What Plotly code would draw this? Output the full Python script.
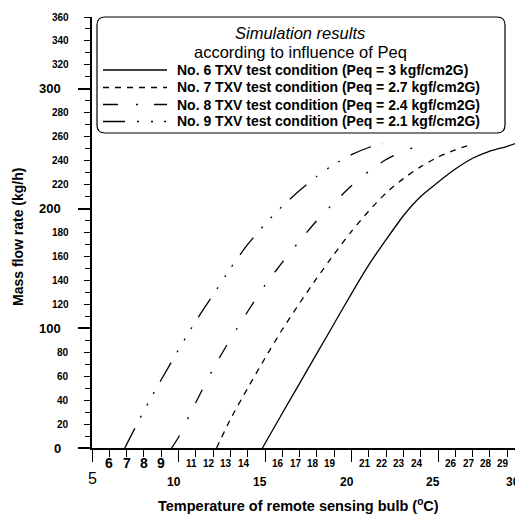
import plotly.graph_objects as go

# ---------------- data ----------------
temp_no6 = [14.85, 16, 17, 18, 19, 20, 21, 22, 23, 24, 25, 26, 27, 28, 29, 29.5]
flow_no6 = [0, 29, 54, 79, 104, 129, 153, 174, 194, 210, 222, 233, 242, 248, 252, 254.5]

temp_no7 = [12.2, 13, 14, 15, 16, 17, 18, 19, 20, 21, 22, 23, 24, 25, 26, 27]
flow_no7 = [0, 24, 50, 75, 99, 121, 142, 162, 181, 198, 213, 225, 235, 243, 249, 254]

temp_no8 = [9.6, 10, 11, 12, 13, 14, 15, 16, 17, 18, 19, 20, 21, 22, 23, 24, 24.4]
flow_no8 = [0, 9, 38, 66, 91, 114, 136, 155, 173, 190, 205, 219, 231, 241, 248, 253, 254]

temp_no9 = [6.9, 7, 8, 9, 10, 11, 12, 13, 14, 15, 16, 17, 18, 19, 20, 21, 21.8]
flow_no9 = [0, 3, 31, 57, 82, 106, 128, 150, 170, 187, 202, 215, 227, 237, 245, 251, 254]

series_names = [
    "No. 6 TXV test condition (Peq = 3 kgf/cm2G)",
    "No. 7 TXV test condition (Peq = 2.7 kgf/cm2G)",
    "No. 8 TXV test condition (Peq = 2.4 kgf/cm2G)",
    "No. 9 TXV test condition (Peq = 2.1 kgf/cm2G)",
]
legend_title_1 = "Simulation results"
legend_title_2 = "according to influence of Peq"

x_tick_vals = list(range(5, 31))
x_tick_labels = [str(v) for v in x_tick_vals]
x_major_vals = [5, 10, 15, 20, 25, 30]
y_tick_vals = list(range(0, 361, 20))
y_tick_labels = [str(v) for v in y_tick_vals]
y_major_vals = [0, 100, 200, 300]

x_title = "Temperature of remote sensing bulb (<sup>o</sup>C)"
y_title = "Mass flow rate (kg/h)"

# ---------------- geometry / styles ----------------
OFF = 8                          # page body margin
W, H = 523 - OFF, 516 - OFF
L = 92 - OFF
T = 17 - OFF
B = H - (448 - OFF)
R = 0
PW, PH = W - L - R, H - T - B
XPX = 17.3                       # pixels per degree
X0 = 5
XMAX = X0 + PW / XPX
YMAX = 360

dashes = ["solid", "6px,6px", "15px,18px,2px,16px",
          "22px,12px,2px,12px,2px,11px,2px,12px"]
NARROW = "Liberation Sans Narrow, Arial Narrow, Liberation Sans, Arial"
ARIAL = "Liberation Sans, Arial, sans-serif"


def pxx(p):
    """reference-picture x pixel -> paper coordinate"""
    return (p - OFF - L) / PW


def pxy(p):
    """reference-picture y pixel -> paper coordinate"""
    return (H - B - (p - OFF)) / PH


series = [(temp_no6, flow_no6), (temp_no7, flow_no7),
          (temp_no8, flow_no8), (temp_no9, flow_no9)]

fig = go.Figure()
for (xs, ys), name, d in zip(series, series_names, dashes):
    fig.add_trace(go.Scatter(
        x=xs, y=ys, mode="lines", name=name, showlegend=False,
        line=dict(color="black", width=1.3, dash=d, shape="spline", smoothing=0.6),
    ))

annotations = []
shapes = []

# x tick labels (staggered like the original)
for v, lab in zip(x_tick_vals, x_tick_labels):
    xp = (v - X0) * XPX / PW
    if v == 5:
        annotations.append(dict(x=xp, y=pxy(478), text=lab, font=dict(family=ARIAL, size=16, color="black")))
    elif v < 10:
        annotations.append(dict(x=xp, y=pxy(463), text=lab, font=dict(family=ARIAL, size=14, color="black", weight="bold")))
    elif v in x_major_vals:
        if xp * PW < PW - 10:
            annotations.append(dict(x=xp, y=pxy(482), text=lab, xshift=-5,
                                    font=dict(family=NARROW, size=12, color="black", weight="bold")))
        else:
            annotations.append(dict(x=1.0, y=pxy(482), text=lab, xanchor="right", xshift=-1,
                                    font=dict(family=NARROW, size=12, color="black", weight="bold")))
    else:
        annotations.append(dict(x=xp, y=pxy(463), text=lab, xshift=-4, font=dict(family=NARROW, size=10, color="black", weight="bold")))

# y tick labels
for v, lab in zip(y_tick_vals, y_tick_labels):
    yp = v / YMAX
    if v in y_major_vals:
        annotations.append(dict(x=pxx(63), y=yp, text=lab, xanchor="right",
                                font=dict(family=NARROW, size=13, color="black", weight="bold")))
    else:
        annotations.append(dict(x=pxx(71), y=yp, text=lab, xanchor="right",
                                font=dict(family=NARROW, size=10, color="black", weight="bold")))

# axis titles
annotations.append(dict(x=pxx(298), y=pxy(505), text=x_title,
                        font=dict(family=ARIAL, size=14.5, color="black", weight="bold")))
annotations.append(dict(x=pxx(18), y=pxy(237), text=y_title, textangle=-90,
                        font=dict(family=ARIAL, size=14, color="black", weight="bold")))

# legend box (rounded)
bx0, bx1, by0, by1, r = pxx(97), pxx(505), pxy(17), pxy(133), 8
rx, ry = r / PW, r / PH
path = (f"M{bx0+rx},{by0} L{bx1-rx},{by0} Q{bx1},{by0} {bx1},{by0-ry} "
        f"L{bx1},{by1+ry} Q{bx1},{by1} {bx1-rx},{by1} L{bx0+rx},{by1} "
        f"Q{bx0},{by1} {bx0},{by1+ry} L{bx0},{by0-ry} Q{bx0},{by0} {bx0+rx},{by0} Z")
shapes.append(dict(type="path", path=path, xref="paper", yref="paper",
                   line=dict(color="black", width=1.2), fillcolor="white", layer="above"))

annotations.append(dict(x=pxx(300), y=pxy(33), text=f"<i>{legend_title_1}</i>",
                        font=dict(family=ARIAL, size=16.5, color="black")))
annotations.append(dict(x=pxx(300), y=pxy(52), text=legend_title_2,
                        font=dict(family=ARIAL, size=16.5, color="black")))
entry_y = [70, 87.5, 104.5, 121.5]
for name, d, ey in zip(series_names, dashes, entry_y):
    shapes.append(dict(type="line", xref="paper", yref="paper",
                       x0=pxx(103), x1=pxx(167), y0=pxy(ey), y1=pxy(ey),
                       line=dict(color="black", width=1.3, dash=d), layer="above"))
    annotations.append(dict(x=pxx(175), y=pxy(ey), text=name, xanchor="left",
                            font=dict(family=ARIAL, size=14, color="black", weight="bold")))

for a in annotations:
    a.setdefault("xref", "paper")
    a.setdefault("yref", "paper")
    a.setdefault("showarrow", False)
    a.setdefault("yanchor", "middle")
    a.setdefault("xanchor", "center")

axis_common = dict(showgrid=False, zeroline=False, showticklabels=False)
fig.update_layout(
    width=W, height=H,
    margin=dict(l=L, r=R, t=T, b=B, pad=0),
    paper_bgcolor="white", plot_bgcolor="white",
    showlegend=False,
    xaxis=dict(range=[X0, XMAX], tickvals=x_tick_vals, ticks="outside", ticklen=7,
               tickwidth=1.2, tickcolor="black", showline=True, linecolor="black",
               linewidth=1.5, **axis_common),
    xaxis2=dict(range=[X0, XMAX], overlaying="x", anchor="y", side="bottom",
                tickvals=x_major_vals, ticks="outside", ticklen=13, tickwidth=1.3,
                tickcolor="black", showline=False, **axis_common),
    yaxis=dict(range=[0, YMAX], tickvals=y_tick_vals, ticks="outside", ticklen=6,
               tickwidth=1.2, tickcolor="black", showline=True, linecolor="black",
               linewidth=1.5,
               minor=dict(dtick=10, ticks="outside", ticklen=5, tickcolor="black", tickwidth=1.1),
               **axis_common),
    yaxis2=dict(range=[0, YMAX], overlaying="y", anchor="x", side="left",
                tickvals=y_major_vals, ticks="outside", ticklen=13, tickwidth=1.5,
                tickcolor="black", showline=False, **axis_common),
    annotations=annotations,
    shapes=shapes,
)
fig.add_trace(go.Scatter(x=[X0], y=[0], xaxis="x2", yaxis="y2", mode="markers",
                         marker=dict(opacity=0), showlegend=False, hoverinfo="skip"))

fig.write_html("out.html")
